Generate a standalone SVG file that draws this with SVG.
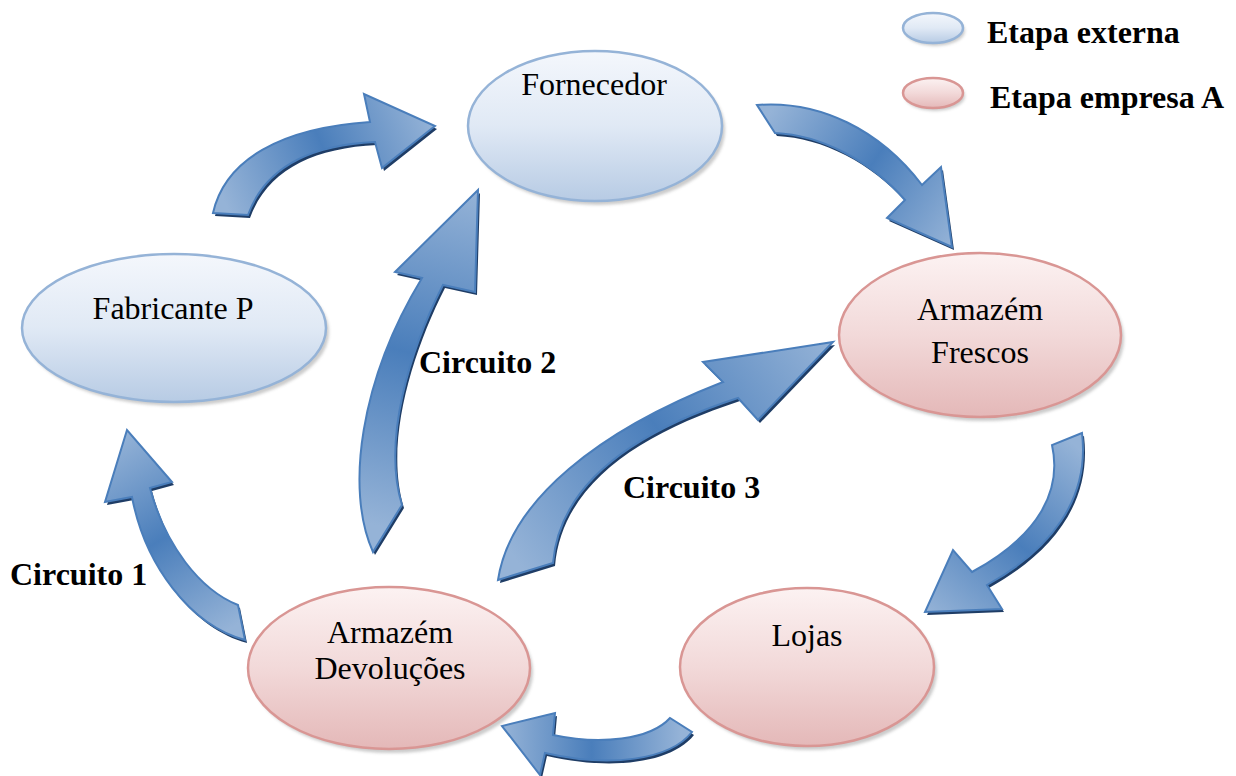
<svg xmlns="http://www.w3.org/2000/svg" width="1236" height="776" viewBox="0 0 1236 776">
<style>
.ext{fill:url(#gBlue);stroke:#95b3d7;stroke-width:2.5}
.int{fill:url(#gPink);stroke:#d99694;stroke-width:2.5}
.shd{fill:#8c8c8c;opacity:0.45;filter:url(#blur)}
.lbl{font-family:"Liberation Serif","Times New Roman",serif;font-size:32px;fill:#000;text-anchor:middle}
.bold{font-family:"Liberation Serif","Times New Roman",serif;font-size:32px;font-weight:bold;fill:#000}
.ash{fill:#1f3d66}
.arr{stroke:#4a7ebb;stroke-width:2;stroke-linejoin:miter}
</style>
<defs>
<filter id="blur" x="-10%" y="-10%" width="120%" height="120%"><feGaussianBlur stdDeviation="1.5"/></filter>
<linearGradient id="gBlue" x1="0" y1="0" x2="0" y2="1">
<stop offset="0" stop-color="#f4f7fc"/><stop offset="0.5" stop-color="#e0e9f5"/><stop offset="1" stop-color="#b7cbe4"/>
</linearGradient>
<linearGradient id="gPink" x1="0" y1="0" x2="0" y2="1">
<stop offset="0" stop-color="#fcf2f2"/><stop offset="0.5" stop-color="#f2d9d9"/><stop offset="1" stop-color="#e4b8b8"/>
</linearGradient>
<linearGradient id="gArr">
<stop offset="0" stop-color="#95b3d7"/><stop offset="0.5" stop-color="#4a7ebb"/><stop offset="1" stop-color="#95b3d7"/>
</linearGradient>
<linearGradient id="gA" href="#gArr" gradientUnits="userSpaceOnUse" x1="230" y1="214" x2="435" y2="126"/>
<linearGradient id="gB" href="#gArr" gradientUnits="userSpaceOnUse" x1="766" y1="119" x2="952" y2="247"/>
<linearGradient id="gC" href="#gArr" gradientUnits="userSpaceOnUse" x1="1067" y1="439" x2="925" y2="612"/>
<linearGradient id="gD" href="#gArr" gradientUnits="userSpaceOnUse" x1="681" y1="725" x2="502" y2="726"/>
<linearGradient id="gE" href="#gArr" gradientUnits="userSpaceOnUse" x1="241" y1="622" x2="127" y2="430"/>
<linearGradient id="gF" href="#gArr" gradientUnits="userSpaceOnUse" x1="387" y1="528" x2="478" y2="190"/>
<linearGradient id="gG" href="#gArr" gradientUnits="userSpaceOnUse" x1="525" y1="572" x2="833" y2="342"/>
<path id="pA" d="M213,213 C225,160 280,128 370,122 L364,94 L435,126 L382,168 L375,142 C310,145 265,168 248,215 Z"/>
<path id="pB" d="M757,105 C820,100 880,130 922,185 L941,167 L952,247 L887,218 L905,200 C870,160 820,135 775,133 Z"/>
<path id="pC" d="M1052,445 C1062,490 1040,535 972,572 L953,550 L925,612 L1002,609 L987,585 C1050,550 1090,500 1082,433 Z"/>
<path id="pD" d="M670,718 C650,740 600,745 553,735 L555,713 L502,726 L540,775 L545,753 C610,768 670,760 692,732 Z"/>
<path id="pE" d="M238,605 C200,590 165,545 150,488 L172,482 L127,430 L105,502 L132,497 C145,565 190,625 245,640 Z"/>
<path id="pF" d="M373,552 C345,490 360,380 422,278 L395,272 L478,190 L475,292 L443,285 C410,350 382,440 402,505 Z"/>
<path id="pG" d="M498,580 C510,500 600,430 723,382 L703,362 L833,342 L758,420 L738,398 C640,430 560,480 553,563 Z"/>
</defs>
<rect width="1236" height="776" fill="#fff"/>

<g id="connectors">
<g id="arrow-fabricante-fornecedor"><use href="#pA" class="ash" transform="translate(2,3)"/><use href="#pA" class="arr" fill="url(#gA)"/></g>
<g id="arrow-fornecedor-frescos"><use href="#pB" class="ash" transform="translate(2,3)"/><use href="#pB" class="arr" fill="url(#gB)"/></g>
<g id="arrow-frescos-lojas"><use href="#pC" class="ash" transform="translate(2,3)"/><use href="#pC" class="arr" fill="url(#gC)"/></g>
<g id="arrow-lojas-devolucoes"><use href="#pD" class="ash" transform="translate(2,3)"/><use href="#pD" class="arr" fill="url(#gD)"/></g>
<g id="arrow-circuito1"><use href="#pE" class="ash" transform="translate(2,3)"/><use href="#pE" class="arr" fill="url(#gE)"/></g>
<g id="arrow-circuito2"><use href="#pF" class="ash" transform="translate(2,3)"/><use href="#pF" class="arr" fill="url(#gF)"/></g>
<g id="arrow-circuito3"><use href="#pG" class="ash" transform="translate(2,3)"/><use href="#pG" class="arr" fill="url(#gG)"/></g>
<text class="bold" x="10" y="585">Circuito 1</text>
<text class="bold" x="419" y="373">Circuito 2</text>
<text class="bold" x="623" y="498">Circuito 3</text>
</g>

<g id="node-fornecedor">
<ellipse class="shd" cx="598" cy="130" rx="127" ry="75"/>
<ellipse class="ext" cx="595" cy="126" rx="127" ry="75"/>
<text class="lbl" x="594" y="95">Fornecedor</text>
</g>
<g id="node-fabricante">
<ellipse class="shd" cx="177" cy="332" rx="152" ry="74"/>
<ellipse class="ext" cx="174" cy="328" rx="152" ry="74"/>
<text class="lbl" x="173" y="319">Fabricante P</text>
</g>
<g id="node-frescos">
<ellipse class="shd" cx="983" cy="339" rx="141" ry="82"/>
<ellipse class="int" cx="980" cy="335" rx="141" ry="82"/>
<text class="lbl" x="980" y="320">Armazém</text>
<text class="lbl" x="980" y="363">Frescos</text>
</g>
<g id="node-lojas">
<ellipse class="shd" cx="810" cy="671" rx="127" ry="79"/>
<ellipse class="int" cx="807" cy="667" rx="127" ry="79"/>
<text class="lbl" x="807" y="646">Lojas</text>
</g>
<g id="node-devolucoes">
<ellipse class="shd" cx="392" cy="672" rx="141" ry="81"/>
<ellipse class="int" cx="389" cy="668" rx="141" ry="81"/>
<text class="lbl" x="390" y="643">Armazém</text>
<text class="lbl" x="390" y="679">Devoluções</text>
</g>

<g id="legend">
<ellipse class="shd" cx="935" cy="31" rx="30" ry="15"/>
<ellipse class="ext" cx="933" cy="28" rx="30" ry="15"/>
<text class="bold" x="987" y="43">Etapa externa</text>
<ellipse class="shd" cx="935" cy="96" rx="30" ry="15"/>
<ellipse class="int" cx="933" cy="93" rx="30" ry="15"/>
<text class="bold" x="990" y="108">Etapa empresa A</text>
</g>
</svg>
